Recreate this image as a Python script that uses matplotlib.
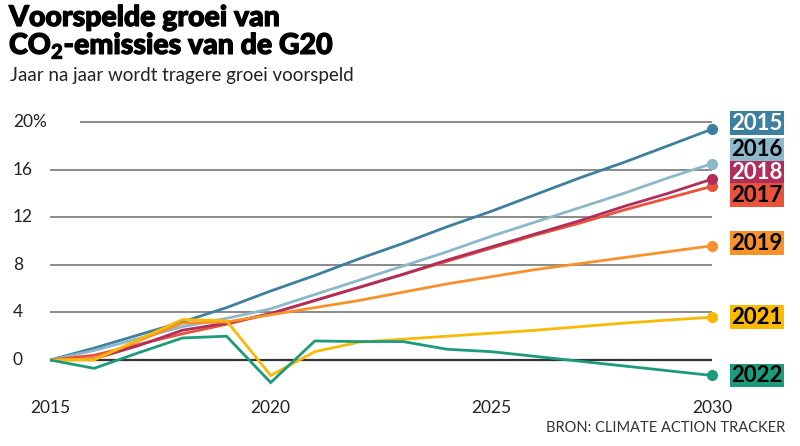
import matplotlib
matplotlib.use('Agg')
import matplotlib.pyplot as plt
import matplotlib.patheffects as pe

plt.rcParams['font.family'] = ['Lato', 'DejaVu Sans']
plt.rcParams['mathtext.fontset'] = 'custom'
plt.rcParams['mathtext.bf'] = 'Lato:bold'
plt.rcParams['mathtext.rm'] = 'Lato'

years = list(range(2015, 2031))

# predicted growth of CO2 emissions vs 2015 (%), per forecast year
growth_2015 = [0, 1.0, 2.1, 3.2, 4.4, 5.8, 7.1, 8.5, 9.8, 11.2, 12.5, 13.9, 15.3, 16.6, 18.0, 19.4]
growth_2016 = [0, 0.8, 1.8, 2.8, 3.5, 4.3, 5.5, 6.7, 7.9, 9.1, 10.4, 11.6, 12.8, 14.0, 15.3, 16.5]
growth_2017 = [0, 0.4, 1.3, 2.2, 3.0, 3.9, 5.0, 6.1, 7.2, 8.3, 9.4, 10.5, 11.5, 12.6, 13.6, 14.6]
growth_2018 = [0, 0.1, 1.2, 2.5, 3.1, 3.9, 5.0, 6.1, 7.2, 8.4, 9.5, 10.6, 11.7, 12.9, 14.0, 15.2]
growth_2019 = [0, 0.1, 1.6, 3.1, 3.2, 3.8, 4.4, 5.0, 5.7, 6.4, 7.0, 7.6, 8.1, 8.6, 9.1, 9.6]
growth_2021 = [0, 0.0, 1.7, 3.4, 3.3, -1.3, 0.7, 1.5, 1.75, 2.0, 2.25, 2.5, 2.8, 3.1, 3.35, 3.6]
growth_2022 = [0, -0.7, 0.6, 1.85, 2.0, -1.9, 1.6, 1.55, 1.55, 0.9, 0.7, 0.3, -0.1, -0.5, -0.9, -1.3]

series = [
    ('2015', growth_2015, '#3d7f9e', 'white', 19.9),
    ('2016', growth_2016, '#8db7cb', 'black', 17.65),
    ('2018', growth_2018, '#b22e5a', 'white', 15.75),
    ('2017', growth_2017, '#e9533b', 'black', 13.85),
    ('2019', growth_2019, '#f7922a', 'black', 9.83),
    ('2021', growth_2021, '#f9b905', 'black', 3.6),
    ('2022', growth_2022, '#1c9b7c', 'black', -1.3),
]

y_ticks = [0, 4, 8, 12, 16, 20]
x_ticks = [2015, 2020, 2025, 2030]

fig = plt.figure(figsize=(8, 4.46), dpi=100)
ax = fig.add_axes([50 / 800, 56.25 / 446, 662 / 800, 279.65 / 446])
ax.set_xlim(2015, 2030)
ax.set_ylim(-2.5, 21)
for s in ax.spines.values():
    s.set_visible(False)
ax.set_yticks([])
ax.set_xticks(x_ticks)
ax.set_xticklabels([str(x) for x in x_ticks], fontsize=12.5, color='#222222')
ax.tick_params(axis='x', length=0, pad=7.5)

# grid lines
for y in y_ticks:
    if y == 0:
        ax.hlines(y, 2015, 2030, color='#333333', lw=1.6, zorder=1)
    elif y == 20:
        ax.hlines(y, 2015.68, 2030, color='#8a8a8a', lw=1.4, zorder=1)
    else:
        ax.hlines(y, 2015, 2030, color='#8a8a8a', lw=1.4, zorder=1)
    ax.text(-0.056, y, f'{y}%' if y == 20 else str(y), transform=ax.get_yaxis_transform(),
            ha='left', va='center', fontsize=12.5, color='#222222')

draw_order = ['2015', '2016', '2017', '2018', '2019', '2021', '2022']
lookup = {s[0]: s for s in series}
for z, name in enumerate(draw_order):
    _, vals, col, _, _ = lookup[name]
    ax.plot(years, vals, color=col, lw=2.0, zorder=3 + z, solid_joinstyle='miter')
    ax.plot(years[-1], vals[-1], 'o', color=col, ms=7, zorder=3 + z, clip_on=False)

# labels on the right
for name, vals, col, tcol, ly in series:
    ax.text(2030.44, ly, name, ha='left', va='center', fontsize=16, fontweight='bold',
            color=tcol, clip_on=False,
            bbox=dict(boxstyle='square,pad=0.06', fc=col, ec='none'))

title = fig.text(9 / 800, 1 - 5 / 446, 'Voorspelde groei van\nCO$_\\mathbf{2}$-emissies van de G20', ha='left', va='top',
                 fontsize=20.5, fontweight='black', color='black', linespacing=1.0)
title.set_path_effects([pe.withStroke(linewidth=0.9, foreground='black')])
fig.text(10 / 800, 1 - 75 / 446, 'Jaar na jaar wordt tragere groei voorspeld', ha='left', va='center',
         fontsize=13.5, color='#222222')
fig.text(785 / 800, 1 - 428 / 446, 'BRON: CLIMATE ACTION TRACKER', ha='right', va='center',
         fontsize=10.5, color='#333333')

fig.savefig('out.png', dpi=100)
plt.close(fig)
